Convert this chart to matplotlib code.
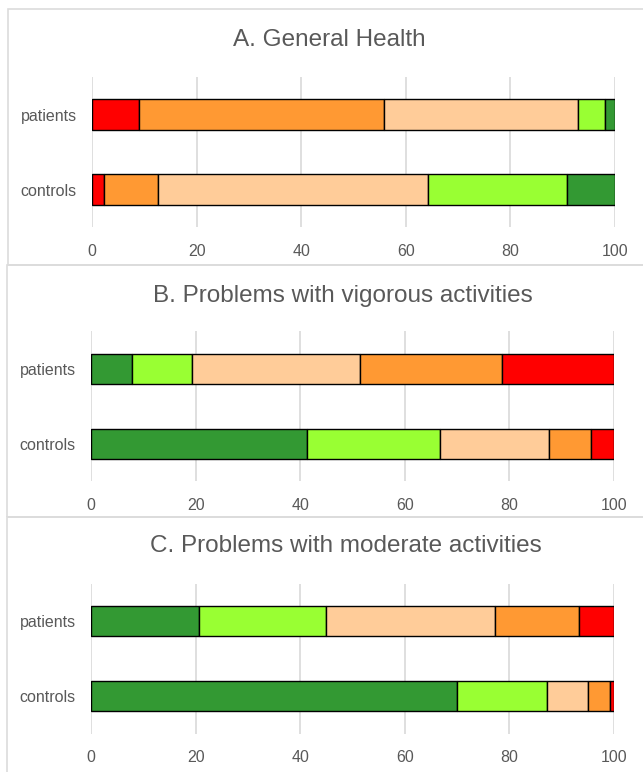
import matplotlib
matplotlib.use("Agg")
import matplotlib.pyplot as plt
from matplotlib.patches import Rectangle

plt.rcParams['font.family'] = ['Liberation Sans', 'DejaVu Sans']

groups = ["controls", "patients"]
xticks = [0, 20, 40, 60, 80, 100]

titles = ["A. General Health",
          "B. Problems with vigorous activities",
          "C. Problems with moderate activities"]

# Panel A (segments left to right): red, orange, peach, light green, dark green
a_red = [2.3, 8.9]
a_orange = [10.4, 46.9]
a_peach = [51.5, 37.1]
a_lgreen = [26.7, 5.1]
a_dgreen = [9.1, 2.0]

# Panel B (segments left to right): dark green, light green, peach, orange, red
b_dgreen = [41.3, 7.9]
b_lgreen = [25.5, 11.5]
b_peach = [20.7, 32.0]
b_orange = [8.1, 27.1]
b_red = [4.4, 21.5]

# Panel C
c_dgreen = [69.9, 20.7]
c_lgreen = [17.2, 24.2]
c_peach = [8.0, 32.3]
c_orange = [4.1, 16.2]
c_red = [0.8, 6.6]

RED = "#FF0000"
ORANGE = "#FF9933"
PEACH = "#FFCC99"
LGREEN = "#99FF33"
DGREEN = "#339933"

panels = [
    [(a_red, RED), (a_orange, ORANGE), (a_peach, PEACH), (a_lgreen, LGREEN), (a_dgreen, DGREEN)],
    [(b_dgreen, DGREEN), (b_lgreen, LGREEN), (b_peach, PEACH), (b_orange, ORANGE), (b_red, RED)],
    [(c_dgreen, DGREEN), (c_lgreen, LGREEN), (c_peach, PEACH), (c_orange, ORANGE), (c_red, RED)],
]

W, H = 643, 772
fig = plt.figure(figsize=(W / 100, H / 100), dpi=100)
fig.patch.set_facecolor("white")

TXT = "#595959"
GRID = "#d9d9d9"

# panel boxes (pixel: left, top, bottom)
boxes = [(8, 9, 265), (7, 265, 517), (7, 517, 800)]
for (l, t, b) in boxes:
    fig.patches.append(Rectangle((l / W, 1 - b / H), (700 - l) / W, (b - t) / H,
                                 transform=fig.transFigure, fill=False,
                                 edgecolor="#dcdcdc", lw=1.2))

# axes (pixel: left, right, top, bottom)
axes_px = [(92, 615, 77, 227), (91, 614, 331, 481), (91, 614, 583.5, 733.5)]
title_px = [(329, 40), (343, 296), (346, 546)]

for i, (l, r, t, b) in enumerate(axes_px):
    ax = fig.add_axes([l / W, 1 - b / H, (r - l) / W, (b - t) / H])
    left = [0.0, 0.0]
    for vals, col in panels[i]:
        ax.barh(groups, vals, left=left, height=0.4, color=col,
                edgecolor="black", linewidth=1.0, zorder=3)
        left = [left[k] + vals[k] for k in range(2)]
    ax.set_xlim(0, 100)
    ax.set_ylim(-0.5, 1.5)
    ax.set_xticks(xticks)
    ax.xaxis.grid(True, color=GRID, lw=1.2, zorder=0)
    ax.set_axisbelow(True)
    for s in ax.spines.values():
        s.set_visible(False)
    ax.tick_params(axis="both", length=0, labelsize=11.5, labelcolor=TXT)
    ax.tick_params(axis="x", pad=12)
    ax.tick_params(axis="y", pad=11)
    ax.set_facecolor("none")
    tx, ty = title_px[i]
    fig.text(tx / W, 1 - ty / H, titles[i], ha="center", va="center",
             fontsize=17.5, color=TXT)

fig.savefig("out.png", dpi=100, facecolor="white")
